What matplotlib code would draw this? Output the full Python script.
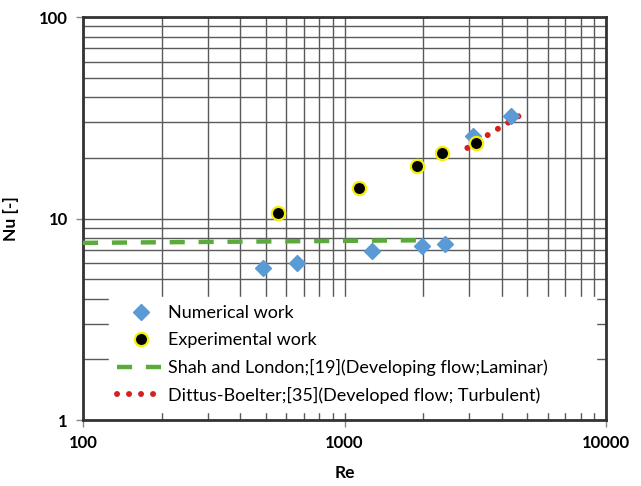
import matplotlib.pyplot as plt
from matplotlib.ticker import FuncFormatter, LogLocator, NullFormatter

# numerical work
re_num = [487, 656, 1279, 1986, 2427, 3103, 4335]
nu_num = [5.68, 6.01, 6.90, 7.31, 7.47, 25.7, 32.3]

# experimental work
re_exp = [555, 1140, 1901, 2366, 3190]
nu_exp = [10.6, 14.2, 18.2, 21.1, 23.7]

# Shah and London (laminar)
re_shah = [100, 2000]
nu_shah = [7.57, 7.80]

# Dittus-Boelter (turbulent)
re_db = [2950, 3400, 3900, 4400, 4800]
nu_db = [22.4, 25.2, 28.1, 30.9, 33.1]

plt.rcParams['font.family'] = ['Lato', 'DejaVu Sans']

fig = plt.figure(figsize=(6.41, 4.86), dpi=100)
ax = fig.add_axes([0.1295, 0.1358, 0.8159, 0.8292])

ax.set_xscale("log")
ax.set_yscale("log")
ax.set_xlim(100, 10000)
ax.set_ylim(1, 100)

ax.plot(re_shah, nu_shah, color="#5BAA3C", linewidth=3.2, dashes=(3.4, 3.1),
        label="Shah and London;[19](Developing flow;Laminar)", zorder=3)
ax.plot(re_db, nu_db, color="#D42020", linewidth=4.3, dashes=(0.01, 2.0),
        dash_capstyle="round", label="Dittus-Boelter;[35](Developed flow; Turbulent)", zorder=3)
ax.plot(re_num, nu_num, linestyle="none", marker="D", markersize=7.8,
        color="#5B9BD5", label="Numerical work", zorder=4)
ax.plot(re_exp, nu_exp, linestyle="none", marker="o", markersize=9.5,
        markerfacecolor="black", markeredgecolor="#F5F000", markeredgewidth=1.6,
        label="Experimental work", zorder=5)

ax.xaxis.set_major_locator(LogLocator(base=10))
ax.yaxis.set_major_locator(LogLocator(base=10))
ax.xaxis.set_minor_locator(LogLocator(base=10, subs=range(2, 10)))
ax.yaxis.set_minor_locator(LogLocator(base=10, subs=range(2, 10)))
fmt = FuncFormatter(lambda v, p: f"{v:g}")
ax.xaxis.set_major_formatter(fmt)
ax.yaxis.set_major_formatter(fmt)
ax.xaxis.set_minor_formatter(NullFormatter())
ax.yaxis.set_minor_formatter(NullFormatter())

ax.grid(True, which="both", color="#5a5a5a", linewidth=1.0)
ax.set_axisbelow(True)
ax.tick_params(which="major", direction="out", length=5, width=1, color="#888888",
               labelsize=12, pad=6)
ax.tick_params(which="minor", length=0)
for lbl in ax.get_xticklabels() + ax.get_yticklabels():
    lbl.set_fontweight("bold")

for s in ax.spines.values():
    s.set_linewidth(2)
    s.set_color("#333333")

ax.set_xlabel("Re", fontsize=12.5, fontweight="bold", labelpad=10)
ax.set_ylabel("Nu [-]", fontsize=12.5, fontweight="bold", labelpad=14)

h, l = ax.get_legend_handles_labels()
order = [2, 3, 0, 1]
leg = ax.legend([h[i] for i in order], [l[i] for i in order],
                loc="lower left", bbox_to_anchor=(0.05, 0.02, 0.93, 0.3),
                mode="expand", fontsize=13, frameon=True, fancybox=False,
                handlelength=2.6, handletextpad=0.2, labelspacing=0.6,
                borderaxespad=0, numpoints=1, borderpad=0.45)
leg.get_frame().set_facecolor("white")
leg.get_frame().set_edgecolor("white")
leg.get_frame().set_alpha(1)
leg.set_zorder(6)

fig.savefig("out.png", dpi=100)
